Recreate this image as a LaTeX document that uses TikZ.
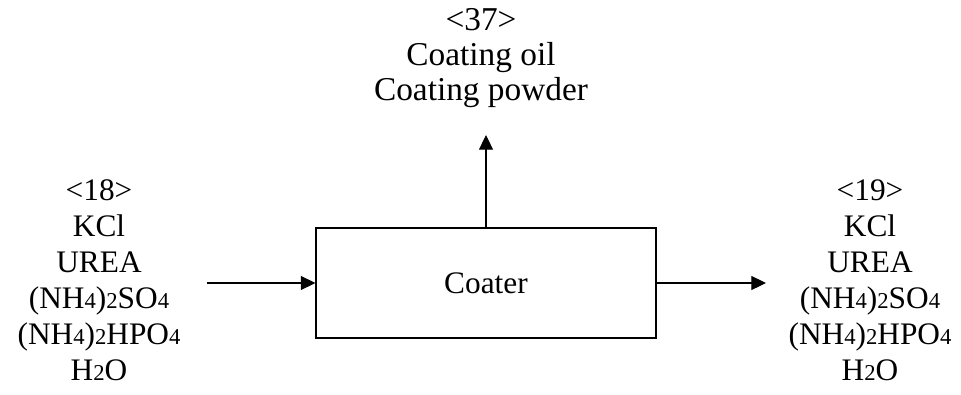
\documentclass[tikz,border=0pt]{standalone}
\usepackage{fontspec}
\setmainfont{Liberation Serif}
\usetikzlibrary{arrows.meta}

% small digits sitting on the baseline
\newcommand\dg[1]{{\fontsize{17}{17}\selectfont #1}}

\begin{document}
\begin{tikzpicture}[
  x=0.75pt, y=-0.75pt,
  font=\fontsize{23.5}{27}\selectfont,
  box/.style={draw, rectangle, minimum width=255pt, minimum height=82.5pt,
              inner sep=0pt, line width=0.8pt},
  txt/.style={align=center, inner sep=0pt, anchor=north},
  arr/.style={-{Triangle[length=11pt,width=10.5pt]}, line width=0.8pt},
]

  \useasboundingbox (0,0) rectangle (961,394);

  % --- Unit ---
  \node[box] (coater) at (486,283) {Coater};

  % --- Streams ---
  \node[txt] (feed) at (99,179.5)
    {<18>\\KCl\\UREA\\(NH\dg{4})\dg{2}SO\dg{4}\\(NH\dg{4})\dg{2}HPO\dg{4}\\H\dg{2}O};
  \node[txt] (product) at (870,179.5)
    {<19>\\KCl\\UREA\\(NH\dg{4})\dg{2}SO\dg{4}\\(NH\dg{4})\dg{2}HPO\dg{4}\\H\dg{2}O};
  \node[txt, font=\fontsize{25}{26.25}\selectfont] (coat) at (481,8)
    {<37>\\Coating oil\\Coating powder};

  \coordinate (in)  at (207,283);
  \coordinate (out) at (766,283);
  \coordinate (up)  at (486,135);

  % --- Arrows ---
  \draw[arr] (in) -- (coater.west);
  \draw[arr] (coater.east) -- (out);
  \draw[arr] (coater.north) -- (up);

\end{tikzpicture}
\end{document}
